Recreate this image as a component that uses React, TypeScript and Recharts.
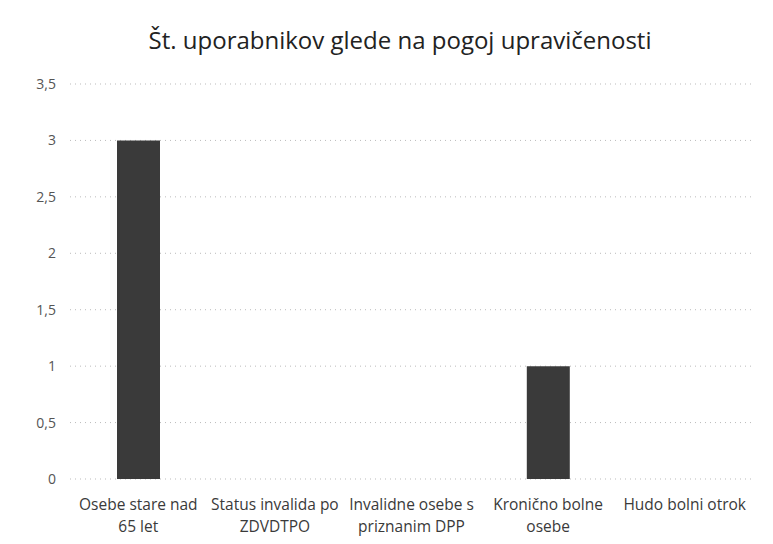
import React from 'react';
import { BarChart, Bar, XAxis, YAxis, CartesianGrid } from 'recharts';

const TITLE = 'Št. uporabnikov glede na pogoj upravičenosti';
const categories = [
  'Osebe stare nad\n65 let',
  'Status invalida po\nZDVDTPO',
  'Invalidne osebe s\npriznanim DPP',
  'Kronično bolne\nosebe',
  'Hudo bolni otrok',
];
const values = [3, 0, 0, 1, 0];
const yTicks = [0, 0.5, 1, 1.5, 2, 2.5, 3, 3.5];

const data = categories.map((c, i) => ({ name: c, value: values[i] }));

const FONT = '"Open Sans", "Noto Sans", sans-serif';

const CatTick = (props: any) => {
  const { x, y, payload } = props;
  const lines = String(payload.value).split('\n');
  return (
    <g transform={`translate(${x},${y})`}>
      <text textAnchor="middle" fill="#3a3a3a" fontSize={15.5} fontFamily={FONT}>
        {lines.map((l, i) => (
          <tspan key={i} x={0} dy={i === 0 ? 23 : 22}>
            {l}
          </tspan>
        ))}
      </text>
    </g>
  );
};

export default function App() {
  return (
    <div style={{ position: 'absolute', left: 0, top: 0, width: 773, height: 544, background: '#fff' }}>
      <div
        style={{
          position: 'absolute',
          left: 0,
          top: 24,
          width: 800,
          textAlign: 'center',
          fontFamily: FONT,
          fontSize: 24,
          color: '#222',
          lineHeight: '32px',
        }}
      >
        {TITLE}
      </div>
      <BarChart
        width={773}
        height={544}
        data={data}
        margin={{ top: 84, right: 20, bottom: 35, left: 10 }}
        barSize={43}
      >
        <CartesianGrid vertical={false} stroke="#bbb" strokeDasharray="1 4" />
        <XAxis dataKey="name" axisLine={false} tickLine={false} tick={<CatTick />} interval={0} />
        <YAxis
          width={60}
          domain={[0, 3.5]}
          ticks={yTicks}
          axisLine={false}
          tickLine={false}
          tickMargin={8}
          tick={{ fill: '#555', fontSize: 14, fontFamily: FONT }}
          tickFormatter={(v: number) => String(v).replace('.', ',')}
        />
        <Bar dataKey="value" fill="#3a3a3a" isAnimationActive={false} />
      </BarChart>
    </div>
  );
}
